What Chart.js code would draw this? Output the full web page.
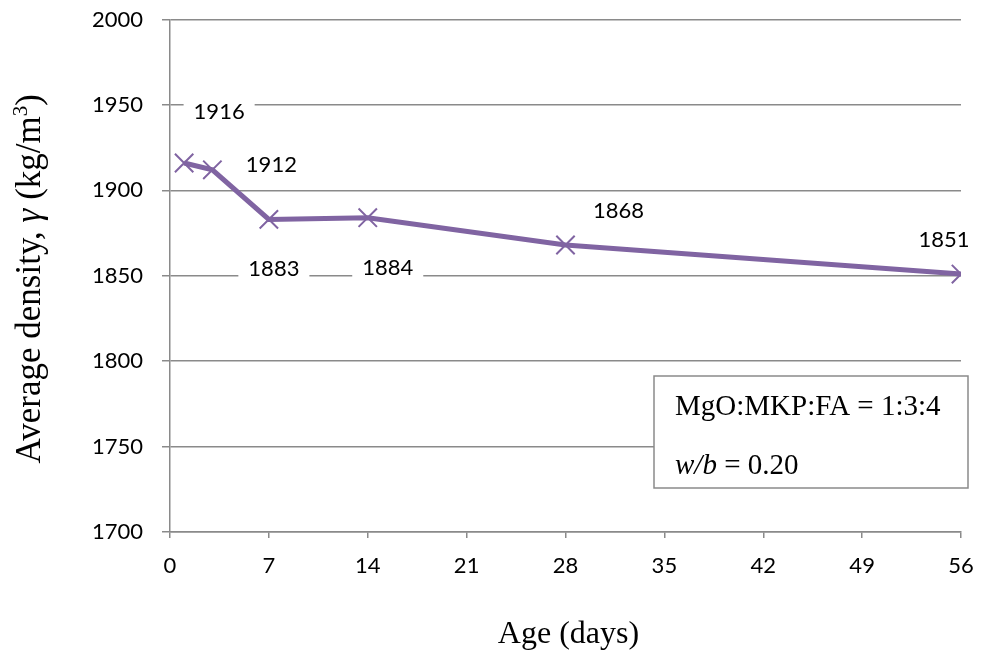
<!DOCTYPE html>
<html>
<head>
<meta charset="utf-8">
<script src="https://cdn.jsdelivr.net/npm/chart.js@4.4.1/dist/chart.umd.min.js"></script>
<style>
  html, body { margin: 0; padding: 0; background: #fff; }
  #wrap { position: relative; width: 982px; height: 652px; }
</style>
</head>
<body>
<div id="wrap"><canvas id="densityChart"></canvas></div>
<script>
// data
const ageDays = [1, 3, 7, 14, 28, 56];
const avgDensity = [1916, 1912, 1883, 1884, 1868, 1851];
const xTicks = [0, 7, 14, 21, 28, 35, 42, 49, 56];
const yTicks = [1700, 1750, 1800, 1850, 1900, 1950, 2000];
const mixText = "MgO:MKP:FA = 1:3:4";
const wbValue = "0.20";

const purple = "#8064A2";
const gridGray = "#8a8a8a";
const sansFont = "Lato, 'Open Sans', sans-serif";
const serifFont = "'Liberation Serif', 'Times New Roman', serif";

// where each value label sits relative to its point (px)
const labelOffsets = [[35, -52], [59, -6], [5, 49], [20, 49], [53, -35], [-17, -35]];

// draws a row of text pieces with different fonts, centred or left aligned
function drawRuns(ctx, runs, x, y, align) {
  let total = 0;
  runs.forEach((r) => {
    ctx.font = r.font;
    r.w = ctx.measureText(r.text).width;
    total += r.w;
  });
  let cx = align === "center" ? x - total / 2 : x;
  ctx.textAlign = "left";
  ctx.textBaseline = "alphabetic";
  runs.forEach((r) => {
    ctx.font = r.font;
    ctx.fillText(r.text, cx, y + (r.dy || 0));
    cx += r.w;
  });
}

const labelPlugin = {
  id: "valueLabels",
  beforeDatasetsDraw(chart) {
    const ctx = chart.ctx;
    const pts = chart.getDatasetMeta(0).data;
    ctx.save();
    ctx.font = "22px " + sansFont;
    ctx.fillStyle = "#fff";
    pts.forEach((p, i) => {
      const txt = String(avgDensity[i]);
      const w = ctx.measureText(txt).width;
      const cx = p.x + labelOffsets[i][0];
      const cy = p.y + labelOffsets[i][1];
      ctx.fillRect(cx - w / 2 - 10, cy - 16, w + 20, 32);
    });
    ctx.restore();
  },
  afterDatasetsDraw(chart) {
    const ctx = chart.ctx;
    const pts = chart.getDatasetMeta(0).data;
    ctx.save();
    ctx.font = "22px " + sansFont;
    ctx.fillStyle = "#000";
    ctx.textAlign = "center";
    ctx.textBaseline = "middle";
    pts.forEach((p, i) => {
      ctx.fillText(String(avgDensity[i]), p.x + labelOffsets[i][0], p.y + labelOffsets[i][1] + 1);
    });
    ctx.restore();
  }
};

const decorPlugin = {
  id: "decor",
  afterDraw(chart) {
    const ctx = chart.ctx;
    const area = chart.chartArea;
    ctx.save();
    ctx.fillStyle = "#000";

    // axis titles
    drawRuns(ctx, [{ text: "Age (days)", font: "32px " + serifFont }],
      (area.left + area.right) / 2 + 3, 643, "center");

    ctx.save();
    ctx.translate(40, (area.top + area.bottom) / 2 + 3);
    ctx.rotate(-Math.PI / 2);
    drawRuns(ctx, [
      { text: "Average density, ", font: "35px " + serifFont },
      { text: "\u03b3", font: "italic 35px " + serifFont },
      { text: " (kg/m", font: "35px " + serifFont },
      { text: "3", font: "21px " + serifFont, dy: -13 },
      { text: ")", font: "35px " + serifFont }
    ], 0, 0, "center");
    ctx.restore();

    // annotation box
    ctx.fillStyle = "#fff";
    ctx.fillRect(654, 376, 314, 112);
    ctx.strokeStyle = gridGray;
    ctx.lineWidth = 1.5;
    ctx.strokeRect(654, 376, 314, 112);
    ctx.fillStyle = "#000";
    drawRuns(ctx, [{ text: mixText, font: "29px " + serifFont }], 675, 415, "left");
    drawRuns(ctx, [
      { text: "w/b", font: "italic 29px " + serifFont },
      { text: " = " + wbValue, font: "29px " + serifFont }
    ], 675, 474, "left");
    ctx.restore();
  }
};

const ctx = document.getElementById("densityChart").getContext("2d");
new Chart(ctx, {
  type: "line",
  data: {
    datasets: [{
      label: "Average density",
      data: ageDays.map((d, i) => ({ x: d, y: avgDensity[i] })),
      borderColor: purple,
      backgroundColor: purple,
      borderWidth: 5,
      tension: 0,
      pointStyle: "crossRot",
      pointRadius: 13,
      pointBorderWidth: 2,
      pointBorderColor: purple,
      fill: false
    }]
  },
  options: {
    responsive: true,
    maintainAspectRatio: false,
    animation: false,
    layout: { padding: { top: 19.5, right: 21, left: 0, bottom: 0 } },
    plugins: {
      legend: { display: false },
      tooltip: { enabled: false },
      title: { display: false }
    },
    scales: {
      x: {
        type: "linear",
        min: 0,
        max: 56,
        afterBuildTicks: (s) => { s.ticks = xTicks.map((v) => ({ value: v })); },
        afterFit: (s) => { s.height = 120; s.paddingLeft = 0; s.paddingRight = 0; },
        grid: { drawOnChartArea: false, drawTicks: true, tickLength: 6, color: gridGray, lineWidth: 1.5 },
        border: { display: true, color: gridGray, width: 1.5 },
        ticks: { color: "#000", font: { family: sansFont, size: 22 }, padding: 15, maxRotation: 0,
          callback: (v) => String(v) }
      },
      y: {
        min: 1700,
        max: 2000,
        afterBuildTicks: (s) => { s.ticks = yTicks.map((v) => ({ value: v })); },
        afterFit: (s) => { s.width = 170; s.paddingTop = 0; s.paddingBottom = 0; },
        grid: { color: gridGray, lineWidth: 1.5, tickLength: 8 },
        border: { display: true, color: gridGray, width: 1.5 },
        ticks: { color: "#000", font: { family: sansFont, size: 22 }, padding: 19,
          callback: (v) => String(v) }
      }
    }
  },
  plugins: [labelPlugin, decorPlugin]
});
</script>
</body>
</html>
